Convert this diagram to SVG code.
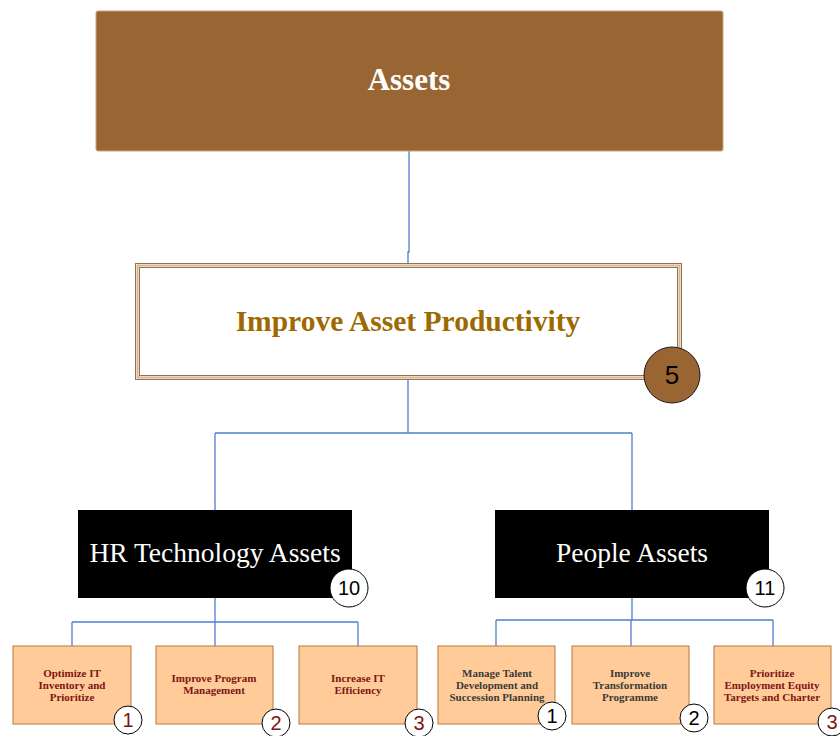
<svg xmlns="http://www.w3.org/2000/svg" width="840" height="736" viewBox="0 0 840 736">
<style>
.conn{fill:none;stroke:#4F7FCF;stroke-width:1.3}
.serif{font-family:"Liberation Serif","DejaVu Serif",serif}
.sans{font-family:"Liberation Sans","DejaVu Sans",sans-serif}
.small{fill:#FFCC99;stroke:#B8783E;stroke-width:1}
.st{font-family:"Liberation Serif","DejaVu Serif",serif;font-size:11px;font-weight:bold;text-anchor:middle}
.red{fill:#7E1414}
.gray{fill:#3A3A3A}
.badge{fill:#fff;stroke:#000;stroke-width:1}
.bn{font-family:"Liberation Sans","DejaVu Sans",sans-serif;font-size:20px;text-anchor:middle}
</style>
<rect width="840" height="736" fill="#fff"/>
<g id="connectors">
<path class="conn" d="M409 151 V252 H408 V263"/>
<path class="conn" d="M408 380 V433 M215 433 H632 M215 433 V510 M632 433 V510"/>
<path class="conn" d="M215 598 V646 M72 622 H358 M72 622 V646 M358 622 V646"/>
<path class="conn" d="M632 598 V620 M496 620 H773 M496 620 V646 M631 620 V646 M773 620 V646"/>
</g>
<g id="assets">
<rect x="96" y="11" width="627" height="140" rx="2" fill="#996633" stroke="#C9A47C" stroke-width="1"/>
<text x="409" y="90" class="serif" font-size="31" font-weight="bold" fill="#fff" text-anchor="middle">Assets</text>
</g>
<g id="improve-asset-productivity">
<rect x="135.5" y="263.5" width="546" height="116" fill="#fff" stroke="#9C6E45" stroke-width="1"/>
<rect x="137.5" y="265.5" width="542" height="112" fill="none" stroke="#D2B596" stroke-width="2"/>
<rect x="139.5" y="267.5" width="538" height="108" fill="#fff" stroke="#9C6E45" stroke-width="1"/>
<text x="408" y="331" class="serif" font-size="29.5" font-weight="bold" fill="#9C6A00" text-anchor="middle">Improve Asset Productivity</text>
<circle cx="672" cy="375" r="28" fill="#996633" stroke="#1a1a1a" stroke-width="1"/>
<text x="672" y="384" class="sans" font-size="26" text-anchor="middle" fill="#000">5</text>
</g>
<g id="hr-technology-assets">
<rect x="78" y="510" width="274" height="88" fill="#000"/>
<text x="215" y="562" class="serif" font-size="27.5" fill="#fff" text-anchor="middle">HR Technology Assets</text>
<circle class="badge" cx="349" cy="588" r="19"/>
<text x="349" y="595" class="bn" font-size="19">10</text>
</g>
<g id="people-assets">
<rect x="495" y="510" width="274" height="88" fill="#000"/>
<text x="632" y="562" class="serif" font-size="27.5" fill="#fff" text-anchor="middle">People Assets</text>
<circle class="badge" cx="765" cy="588" r="19"/>
<text x="765" y="595" class="bn" font-size="19">11</text>
</g>
<g id="optimize-it">
<rect class="small" x="13" y="646" width="118" height="78"/>
<text class="st red"><tspan x="72" y="677">Optimize IT</tspan><tspan x="72" y="689">Inventory and</tspan><tspan x="72" y="701">Prioritize</tspan></text>
<circle class="badge" cx="128" cy="720" r="14"/>
<text x="128" y="727" class="bn red">1</text>
</g>
<g id="improve-program">
<rect class="small" x="156" y="646" width="117" height="78"/>
<text class="st red"><tspan x="214" y="682">Improve Program</tspan><tspan x="214" y="694">Management</tspan></text>
<circle class="badge" cx="276" cy="723" r="14"/>
<text x="276" y="730" class="bn red">2</text>
</g>
<g id="increase-it">
<rect class="small" x="299" y="646" width="118" height="78"/>
<text class="st red"><tspan x="358" y="682">Increase IT</tspan><tspan x="358" y="694">Efficiency</tspan></text>
<circle class="badge" cx="419" cy="723" r="14"/>
<text x="419" y="730" class="bn red">3</text>
</g>
<g id="manage-talent">
<rect class="small" x="438" y="646" width="117" height="78"/>
<text class="st gray"><tspan x="497" y="677">Manage Talent</tspan><tspan x="497" y="689">Development and</tspan><tspan x="497" y="701">Succession Planning</tspan></text>
<circle class="badge" cx="552" cy="716" r="14"/>
<text x="552" y="723" class="bn" fill="#000">1</text>
</g>
<g id="improve-transformation">
<rect class="small" x="572" y="646" width="117" height="78"/>
<text class="st gray"><tspan x="630" y="677">Improve</tspan><tspan x="630" y="689">Transformation</tspan><tspan x="630" y="701">Programme</tspan></text>
<circle class="badge" cx="694" cy="718" r="14"/>
<text x="694" y="725" class="bn" fill="#000">2</text>
</g>
<g id="prioritize-employment-equity">
<rect class="small" x="714" y="646" width="117" height="78"/>
<text class="st red"><tspan x="772" y="677">Prioritize</tspan><tspan x="772" y="689">Employment Equity</tspan><tspan x="772" y="701">Targets and Charter</tspan></text>
<circle class="badge" cx="832" cy="722" r="14"/>
<text x="832" y="729" class="bn red">3</text>
</g>
</svg>
